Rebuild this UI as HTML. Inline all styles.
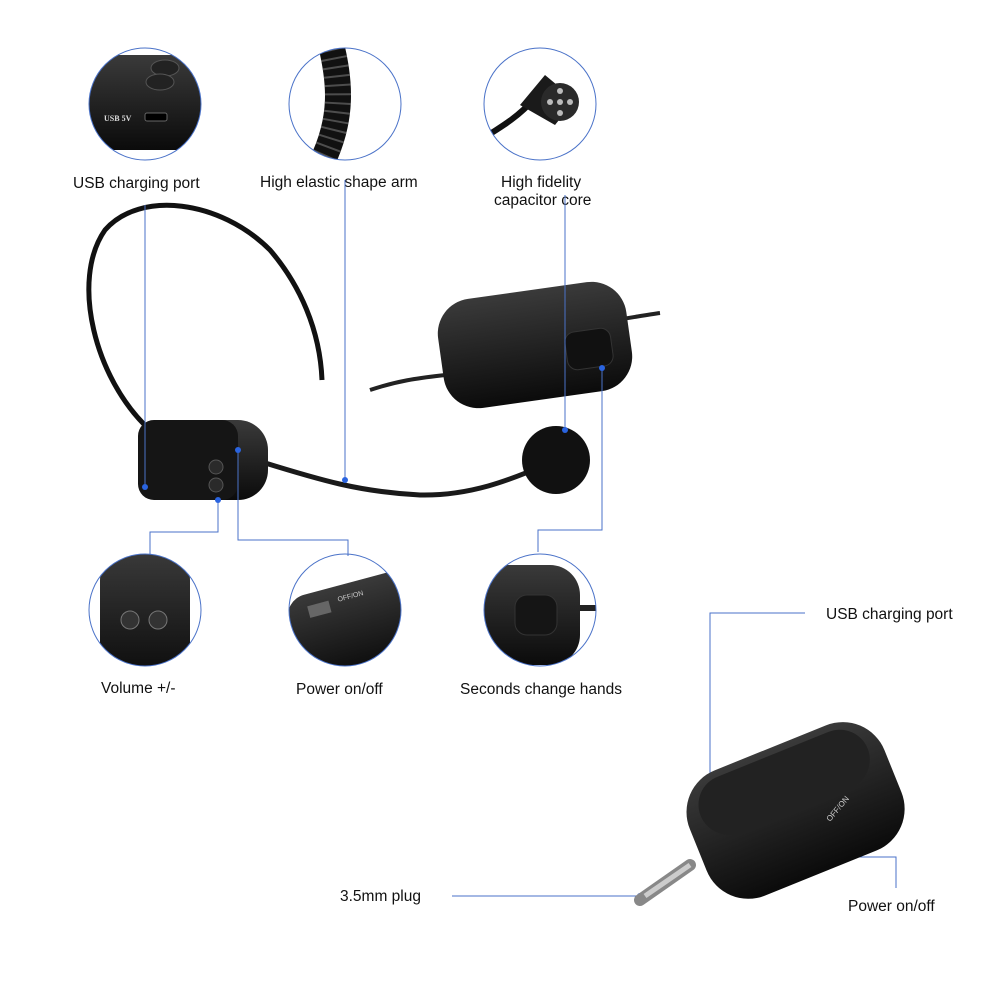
<!DOCTYPE html>
<html><head><meta charset="utf-8"><style>
html,body{margin:0;padding:0;background:#fff}
svg{display:block}
text{font-family:"Liberation Sans",sans-serif;fill:#111;font-size:15.5px}
</style></head><body>
<svg width="1000" height="1000" viewBox="0 0 1000 1000" xmlns="http://www.w3.org/2000/svg">
<defs>
<clipPath id="c1"><circle cx="145" cy="104" r="56"/></clipPath>
<clipPath id="c2"><circle cx="345" cy="104" r="56"/></clipPath>
<clipPath id="c3"><circle cx="540" cy="104" r="56"/></clipPath>
<clipPath id="c4"><circle cx="145" cy="610" r="56"/></clipPath>
<clipPath id="c5"><circle cx="345" cy="610" r="56"/></clipPath>
<clipPath id="c6"><circle cx="540" cy="610" r="56"/></clipPath>
<linearGradient id="g" x1="0" y1="0" x2="0" y2="1"><stop offset="0" stop-color="#3a3a3a"/><stop offset="1" stop-color="#0b0b0b"/></linearGradient>
</defs>

<g clip-path="url(#c1)">
<rect x="80" y="40" width="130" height="130" fill="#fff"/>
<rect x="70" y="55" width="140" height="95" rx="14" fill="url(#g)"/>
<ellipse cx="165" cy="68" rx="14" ry="8" fill="#222" stroke="#555"/>
<ellipse cx="160" cy="82" rx="14" ry="8" fill="#222" stroke="#555"/>
<rect x="145" y="113" width="22" height="8" rx="2" fill="#000" stroke="#666"/>
</g>
<text x="104" y="121" style="font-size:8px;fill:#ddd;font-family:'Liberation Serif',serif;font-weight:bold">USB 5V</text>
<circle cx="145" cy="104" r="56" fill="none" stroke="#4a72c8" stroke-width="1"/>

<g clip-path="url(#c2)">
<path d="M330 40 C340 80 345 120 318 170" stroke="#111" stroke-width="26" fill="none"/>
<path d="M330 40 C340 80 345 120 318 170" stroke="#777" stroke-width="26" fill="none" stroke-dasharray="2 7" opacity="0.6"/>
</g>
<circle cx="345" cy="104" r="56" fill="none" stroke="#4a72c8" stroke-width="1"/>

<g clip-path="url(#c3)">
<path d="M480 140 C505 125 520 115 535 98" stroke="#111" stroke-width="6" fill="none"/>
<path d="M520 105 L545 75 L575 100 L555 125 Z" fill="#1a1a1a"/>
<circle cx="560" cy="102" r="19" fill="#2a2a2a"/>
<circle cx="560" cy="102" r="3" fill="#bbb"/>
<circle cx="560" cy="91" r="3" fill="#bbb"/><circle cx="560" cy="113" r="3" fill="#bbb"/>
<circle cx="550" cy="102" r="3" fill="#bbb"/><circle cx="570" cy="102" r="3" fill="#bbb"/>
</g>
<circle cx="540" cy="104" r="56" fill="none" stroke="#4a72c8" stroke-width="1"/>

<text x="73" y="188">USB charging port</text>
<text x="260" y="187">High elastic shape arm</text>
<text x="501" y="187">High fidelity</text>
<text x="494" y="205">capacitor core</text>

<path d="M150 430 C95 380 70 280 105 230 C140 190 220 200 270 250 C300 285 320 330 322 380" stroke="#111" stroke-width="5" fill="none"/>
<path d="M262 462 C320 480 360 492 420 495 C470 496 510 480 545 465" stroke="#1a1a1a" stroke-width="5" fill="none"/>
<circle cx="556" cy="460" r="34" fill="#111"/>
<rect x="138" y="420" width="130" height="80" rx="30" fill="url(#g)"/>
<rect x="138" y="420" width="100" height="80" rx="16" fill="#151515"/>
<circle cx="216" cy="467" r="7" fill="#2a2a2a" stroke="#555"/>
<circle cx="216" cy="485" r="7" fill="#2a2a2a" stroke="#555"/>

<path d="M370 390 C400 380 420 378 445 375" stroke="#222" stroke-width="4" fill="none"/>
<path d="M615 320 C630 318 645 315 660 313" stroke="#222" stroke-width="4" fill="none"/>
<rect x="440" y="290" width="190" height="110" rx="35" fill="url(#g)" transform="rotate(-8 535 345)"/>
<rect x="566" y="330" width="46" height="38" rx="10" fill="#111" stroke="#333" transform="rotate(-8 589 349)"/>

<g stroke="#4a72c8" stroke-width="1" fill="none">
<path d="M145 205 V487"/>
<path d="M345 180 V480"/>
<path d="M565 195 V430"/>
<path d="M150 565 V532 H218 V500"/>
<path d="M348 556 V540 H238 V450"/>
<path d="M538 552 V530 H602 V368"/>
<path d="M710 778 V613 H805"/>
<path d="M790 857 H896 V888"/>
<path d="M452 896 H640"/>
</g>
<g fill="#2a64e0">
<circle cx="145" cy="487" r="3"/><circle cx="345" cy="480" r="3"/><circle cx="565" cy="430" r="3"/>
<circle cx="218" cy="500" r="3"/><circle cx="238" cy="450" r="3"/><circle cx="602" cy="368" r="3"/>
<circle cx="710" cy="778" r="3"/><circle cx="790" cy="857" r="3"/><circle cx="640" cy="896" r="3"/>
</g>

<g clip-path="url(#c4)">
<rect x="100" y="550" width="90" height="130" rx="30" fill="url(#g)"/>
<circle cx="130" cy="620" r="9" fill="#333" stroke="#777"/>
<circle cx="158" cy="620" r="9" fill="#333" stroke="#777"/>
</g>
<circle cx="145" cy="610" r="56" fill="none" stroke="#4a72c8" stroke-width="1"/>

<g clip-path="url(#c5)">
<rect x="290" y="585" width="140" height="90" rx="22" fill="url(#g)" transform="rotate(-15 345 620)"/>
<rect x="312" y="597" width="22" height="12" fill="#666" transform="rotate(-15 345 620)"/>
</g>
<text x="338" y="600" style="font-size:7px;fill:#ccc" transform="rotate(-15 345 600)">OFF/ON</text>
<circle cx="345" cy="610" r="56" fill="none" stroke="#4a72c8" stroke-width="1"/>

<g clip-path="url(#c6)">
<path d="M570 608 H600" stroke="#222" stroke-width="6"/>
<rect x="470" y="565" width="110" height="100" rx="30" fill="url(#g)"/>
<rect x="515" y="595" width="42" height="40" rx="12" fill="#151515" stroke="#333"/>
</g>
<circle cx="540" cy="610" r="56" fill="none" stroke="#4a72c8" stroke-width="1"/>

<text x="101" y="693">Volume +/-</text>
<text x="296" y="694">Power on/off</text>
<text x="460" y="694">Seconds change hands</text>

<path d="M640 900 L690 865" stroke="#888" stroke-width="12" stroke-linecap="round"/>
<path d="M645 896 L690 865" stroke="#ccc" stroke-width="5"/>
<g transform="rotate(-22 790 810)">
<rect x="690" y="745" width="210" height="135" rx="45" fill="url(#g)"/>
<rect x="705" y="752" width="180" height="60" rx="30" fill="#222"/>
</g>
<text x="830" y="822" style="font-size:8px;fill:#ccc" transform="rotate(-50 830 822)">OFF/ON</text>

<text x="826" y="619">USB charging port</text>
<text x="340" y="901">3.5mm plug</text>
<text x="848" y="911">Power on/off</text>
</svg>
</body></html>
